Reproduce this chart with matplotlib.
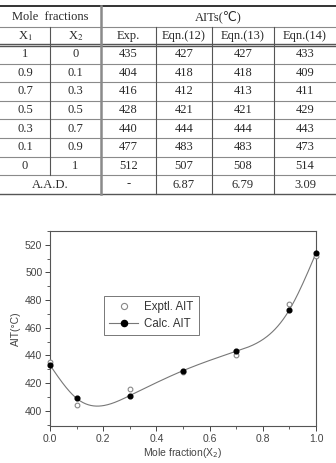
import numpy as np
import matplotlib
matplotlib.use("Agg")
import matplotlib.pyplot as plt
from matplotlib.ticker import MultipleLocator

# table data
x1 = [1, 0.9, 0.7, 0.5, 0.3, 0.1, 0]
x2 = [0, 0.1, 0.3, 0.5, 0.7, 0.9, 1]
exp_ait = [435, 404, 416, 428, 440, 477, 512]
eqn12 = [427, 418, 412, 421, 444, 483, 507]
eqn13 = [427, 418, 413, 421, 444, 483, 508]
eqn14 = [433, 409, 411, 429, 443, 473, 514]
aad = ["-", "6.87", "6.79", "3.09"]
col_heads = [r"X$_1$", r"X$_2$", "Exp.", "Eqn.(12)", "Eqn.(13)", "Eqn.(14)"]


def natural_spline(x, y, xs):
    # natural cubic spline through the calculated points
    x = np.asarray(x, float)
    y = np.asarray(y, float)
    n = len(x)
    h = np.diff(x)
    A = np.zeros((n, n))
    b = np.zeros(n)
    A[0, 0] = A[-1, -1] = 1
    for i in range(1, n - 1):
        A[i, i - 1] = h[i - 1]
        A[i, i] = 2 * (h[i - 1] + h[i])
        A[i, i + 1] = h[i]
        b[i] = 6 * ((y[i + 1] - y[i]) / h[i] - (y[i] - y[i - 1]) / h[i - 1])
    M = np.linalg.solve(A, b)
    idx = np.clip(np.searchsorted(x, xs) - 1, 0, n - 2)
    t0 = xs - x[idx]
    t1 = x[idx + 1] - xs
    hh = h[idx]
    return (M[idx] * t1**3 / (6 * hh) + M[idx + 1] * t0**3 / (6 * hh)
            + (y[idx] / hh - M[idx] * hh / 6) * t1
            + (y[idx + 1] / hh - M[idx + 1] * hh / 6) * t0)


W, H = 336, 463
fig = plt.figure(figsize=(W / 100, H / 100), dpi=100)

# ---- table drawn in pixel coordinates ----
tab = fig.add_axes([0, 0, 1, 1])
tab.set_xlim(0, W)
tab.set_ylim(H, 0)
tab.axis("off")

cols = [0, 50, 101, 156, 212, 274, 336]
centers = [(cols[i] + cols[i + 1]) / 2 for i in range(6)]
top, h1, sep = 6, 27, 45
row_h = 18.6
rows = [sep + row_h * i for i in range(9)]
bottom = rows[-1]
gray = "#8a8a8a"
tcol = "#2a2a2a"
serif = ["Liberation Serif", "DejaVu Sans"]

tab.plot([0, W], [top, top], color="#333333", lw=1.4)
tab.plot([0, W], [h1, h1], color=gray, lw=0.8)
tab.plot([0, W], [sep - 1.2, sep - 1.2], color="#555555", lw=1.0)
tab.plot([0, W], [sep + 0.8, sep + 0.8], color="#555555", lw=1.0)
for yy in rows[1:-1]:
    tab.plot([0, W], [yy, yy], color=gray, lw=0.8)
tab.plot([0, W], [bottom, bottom], color="#555555", lw=1.0)
tab.plot([cols[1]] * 2, [h1, rows[-2]], color="#555555", lw=0.8)
tab.plot([cols[2]] * 2, [top, bottom], color=gray, lw=1.8)
for c in cols[3:6]:
    tab.plot([c, c], [h1, bottom], color="#555555", lw=0.8)

fs = 9
tab.text((cols[0] + cols[2]) / 2, (top + h1) / 2, "Mole  fractions", ha="center",
         va="center", fontsize=fs, family=serif, color=tcol)
tab.text((cols[2] + cols[6]) / 2, (top + h1) / 2, "AITs(\u2103)", ha="center",
         va="center", fontsize=fs, family=serif, color=tcol)
for c, lab in zip(centers, col_heads):
    tab.text(c, (h1 + sep) / 2, lab, ha="center", va="center", fontsize=fs,
             family=serif, math_fontfamily="stix", color=tcol)
for i in range(7):
    vals = [f"{x1[i]:g}", f"{x2[i]:g}", exp_ait[i], eqn12[i], eqn13[i], eqn14[i]]
    yc = (rows[i] + rows[i + 1]) / 2
    for c, v in zip(centers, vals):
        tab.text(c, yc, str(v), ha="center", va="center", fontsize=fs,
                 family=serif, color=tcol)
yc = (rows[7] + rows[8]) / 2
tab.text((cols[0] + cols[2]) / 2, yc, "A.A.D.", ha="center", va="center",
         fontsize=fs, family=serif, color=tcol)
for c, v in zip(centers[2:], aad):
    tab.text(c, yc, v, ha="center", va="center", fontsize=fs, family=serif,
             color=tcol)

# ---- chart ----
l, r, t, b = 50, 316, 231, 426
ax = fig.add_axes([l / W, (H - b) / H, (r - l) / W, (b - t) / H])
sans = "Liberation Sans"
axc = "#444444"
ms = 3.4

xs = np.linspace(0, 1, 300)
ax.plot(xs, natural_spline(x2, eqn14, xs), color="#777777", lw=0.8, zorder=1)
ax.plot(x2, exp_ait, "o", ms=ms, mfc="white", mec="#888888", mew=0.8,
        linestyle="none", zorder=3, label="Exptl. AIT", clip_on=False)
ax.plot(x2, eqn14, "o", ms=ms, mfc="black", mec="black",
        linestyle="none", zorder=4, clip_on=False)
# legend handle for the calc series: marker on a line
ax.plot([], [], "o-", ms=ms, mfc="black", mec="black",
        color="#777777", lw=0.8, label="Calc. AIT")

ax.set_xlim(0, 1)
ax.set_ylim(389, 530)
ax.xaxis.set_major_locator(MultipleLocator(0.2))
ax.xaxis.set_minor_locator(MultipleLocator(0.1))
ax.yaxis.set_minor_locator(MultipleLocator(10))
ax.set_yticks(np.arange(400, 521, 20))
ax.xaxis.set_major_formatter(plt.FuncFormatter(lambda v, p: f"{v:.1f}"))
ax.tick_params(which="major", direction="out", length=3.5, width=0.7,
               labelsize=7.5, colors=axc, pad=2)
ax.tick_params(which="minor", direction="out", length=2, width=0.6, colors=axc)
for lab in ax.get_xticklabels() + ax.get_yticklabels():
    lab.set_family(sans)
for s in ax.spines.values():
    s.set_color("#555555")
    s.set_linewidth(0.8)

ax.set_xlabel(r"Mole fraction(X$_2$)", fontsize=7.5, family=sans, color=axc,
              labelpad=2, math_fontfamily="dejavusans")
ax.set_ylabel("AIT(\u00b0C)", fontsize=7.5, family=sans, color=axc, labelpad=3)

leg = ax.legend(loc="upper left", bbox_to_anchor=(0.203, 0.667), frameon=True,
                fancybox=False, edgecolor="#555555",
                prop={"family": sans, "size": 8.3}, handlelength=2.5,
                handletextpad=0.55, borderpad=0.45, labelspacing=0.45,
                markerscale=1.3, borderaxespad=0)
leg.get_frame().set_linewidth(0.7)
for txt in leg.get_texts():
    txt.set_color("#333333")

fig.savefig("out.png", dpi=100)
